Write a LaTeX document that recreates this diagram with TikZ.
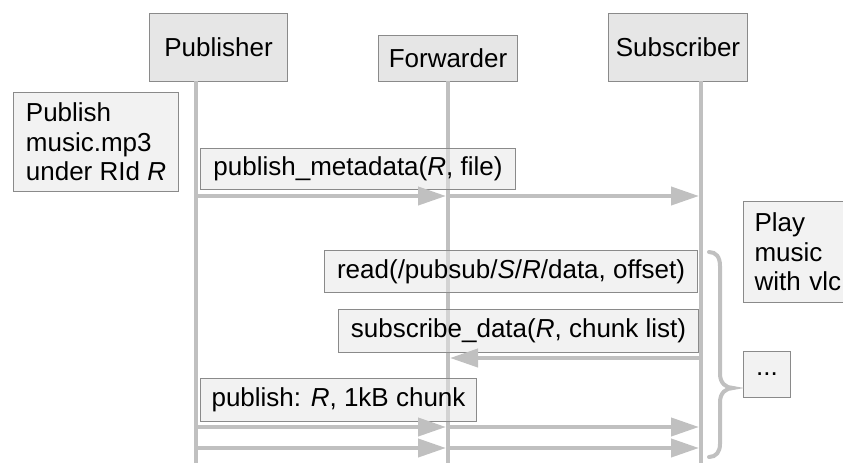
\documentclass[tikz,border=0pt]{standalone}
\usepackage{fontspec}
\setmainfont{Liberation Sans}
\usetikzlibrary{arrows.meta}

\definecolor{lifegray}{HTML}{C0C0C0}
\definecolor{boxedge}{HTML}{8A8A8A}
\definecolor{headfill}{HTML}{E6E6E6}
\definecolor{notefill}{HTML}{E6E6E6}

\begin{document}
\begin{tikzpicture}[x=1pt, y=-1pt,
  every node/.style={font=\fontsize{26}{29.5}\selectfont, inner sep=0pt},
  actor/.style={draw=boxedge, fill=headfill, line width=1pt, anchor=north west},
  note/.style={draw=boxedge, fill=notefill, fill opacity=0.5, text opacity=1,
               draw opacity=1, line width=1pt, anchor=north west},
  lifeline/.style={draw=lifegray, line width=4pt},
  message/.style={draw=lifegray, line width=4pt, shorten >=2pt,
                  -{Triangle[length=28pt, width=18pt, fill=lifegray]}},
  bracepath/.style={draw=lifegray, line width=4pt, line cap=round}]

\useasboundingbox (0,0) rectangle (843,463);

% participants
\node[actor, minimum width=138pt, minimum height=68pt] (pub) at (149,13) {Publisher};
\node[actor, minimum width=139pt, minimum height=46pt] (fwd) at (378,35) {Forwarder};
\node[actor, minimum width=139pt, minimum height=68pt] (sub) at (608,13) {Subscriber};

% lifeline ends
\coordinate (pubTop) at (196,81);
\coordinate (fwdTop) at (448,81);
\coordinate (subTop) at (701,81);
\coordinate (bottom) at (0,463);

\draw[lifeline] (pubTop) -- (pubTop |- bottom);
\draw[lifeline] (fwdTop) -- (fwdTop |- bottom);
\draw[lifeline] (subTop) -- (subTop |- bottom);

% message rows
\coordinate (row1) at (0,196);
\coordinate (row2) at (0,358);
\coordinate (row3) at (0,427);
\coordinate (row4) at (0,448);

% notes and message labels
\node[note, minimum width=165pt, minimum height=99pt, align=left] (start) at (13,92)
  {Publish\\music.mp3\\under RId \textit{R}};
\node[note, minimum width=315pt, minimum height=41pt] (meta) at (200,148)
  {publish\_metadata(\textit{R}, file)};
\node[note, minimum width=110pt, minimum height=101pt, align=left, text width=88pt] (play) at (743,201)
  {Play\\music\\with vlc};
\node[note, minimum width=373pt, minimum height=42pt] (read) at (324,250)
  {read(/pubsub/\textit{S}/\textit{R}/data, offset)};
\node[note, minimum width=360pt, minimum height=43pt] (subdata) at (338,309)
  {subscribe\_data(\textit{R}, chunk list)};
\node[note, minimum width=47pt, minimum height=46pt] (more) at (743,351) {...};
\node[note, minimum width=276pt, minimum height=43pt] (chunk) at (200,378)
  {publish: \textit{R}, 1kB chunk};

% messages
\draw[message] (pubTop |- row1) -- (fwdTop |- row1);
\draw[message] (fwdTop |- row1) -- (subTop |- row1);
\draw[message] (subTop |- row2) -- (fwdTop |- row2);
\draw[message] (pubTop |- row3) -- (fwdTop |- row3);
\draw[message] (fwdTop |- row3) -- (subTop |- row3);
\draw[message] (pubTop |- row4) -- (fwdTop |- row4);
\draw[message] (fwdTop |- row4) -- (subTop |- row4);

% repetition brace
\draw[bracepath] (709,252) .. controls (716,252) and (720,257) .. (720,266)
  -- (720,374) .. controls (720,383) and (726,388) .. (733,388)
  .. controls (726,388) and (720,393) .. (720,402)
  -- (720,444) .. controls (720,452) and (716,457) .. (709,457);
\end{tikzpicture}
\end{document}
